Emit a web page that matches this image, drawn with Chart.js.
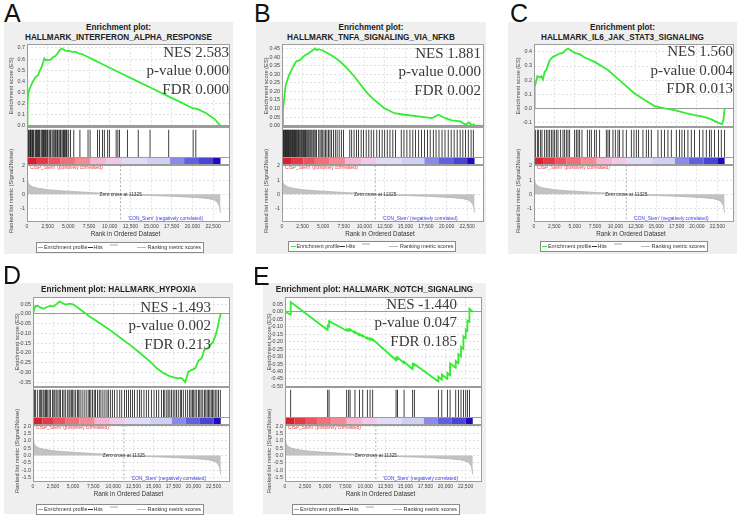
<!DOCTYPE html>
<html>
<head>
<meta charset="utf-8">
<script src="https://cdn.jsdelivr.net/npm/chart.js@4.4.1/dist/chart.umd.min.js"></script>
<style>
  body { margin: 0; width: 740px; height: 522px; position: relative; overflow: hidden; background: #fff;
         font-family: "Liberation Sans", Arial, sans-serif; color: #222; }
  .box { position: absolute; background: #efefef; }
  .letter { position: absolute; font-size: 25px; line-height: 25px; color: #111; }
  .title { position: absolute; width: 240px; font-weight: bold; font-size: 8.2px; line-height: 9.5px; text-align: center; white-space: nowrap; color: #222; }
  .stats { position: absolute; width: 120px; font-family: "Liberation Serif", "Times New Roman", serif; font-size: 15px; line-height: 18.5px; text-align: right; white-space: nowrap; color: #3a3a3a; }
  .ytitle { position: absolute; width: 120px; height: 8px; line-height: 8px; text-align: center; white-space: nowrap; font-size: 5.7px; color: #444; transform: rotate(-90deg); }
  .xtitle { position: absolute; width: 120px; height: 8px; line-height: 8px; text-align: center; font-size: 6.3px; color: #333; white-space: nowrap; }
  .legend { position: absolute; height: 9px; background: #fff; border: 1px solid #8a8a8a; font-size: 5.4px; line-height: 9px; color: #333; }
  .legend span { position: absolute; top: 0; white-space: nowrap; }
  .legend i { position: absolute; display: block; }
  canvas { position: absolute; }
</style>
</head>
<body>
<script>
// ---- data ----
const N_GENES = 23400;
const XMAX = 24550;
const zeroCross = 11325;
const xTicks = [0, 2500, 5000, 7500, 10000, 12500, 15000, 17500, 20000, 22500];

// ranked list metric (Signal2Noise), shared by all panels
const rankedX = [0, 100, 300, 700, 1300, 2500, 4000, 6000, 8000, 11325, 14000, 17500, 20500, 22000, 22700, 23000, 23250, 23400];
const rankedY = [0.95, 0.82, 0.66, 0.52, 0.43, 0.32, 0.25, 0.18, 0.11, 0, -0.07, -0.14, -0.23, -0.31, -0.42, -0.55, -0.8, -1.3];

// red -> blue correlation bar
const cbEdges = [0, 1200, 2600, 4000, 5800, 7700, 9600, 11500, 14500, 17300, 19000, 20800, 22500, 23400];
const cbColors = ['rgb(218,32,48)', 'rgb(228,58,70)', 'rgb(236,84,95)', 'rgb(240,112,122)', 'rgb(244,138,148)',
  'rgb(245,182,214)', 'rgb(240,202,230)', 'rgb(222,220,246)', 'rgb(208,208,243)', 'rgb(138,138,232)',
  'rgb(98,96,222)', 'rgb(74,68,212)', 'rgb(32,10,186)'];

const metTicks1 = [-1, 0, 1, 2];
const metTicks2 = [-1.5, -1, -0.5, 0, 0.5, 1, 1.5, 2];

// A: INTERFERON_ALPHA_RESPONSE
const esRankA = [0, 60, 150, 300, 530, 740, 1050, 1350, 1480, 1770, 1970, 2090, 2250, 2460, 2790, 3000, 3200, 3400, 3700, 3940, 4230, 4440, 4640, 5050, 5460, 5870, 6280, 6690, 7310, 8130, 8950, 10180, 11410, 13060, 15110, 17160, 18800, 20040, 20650, 21680, 22700, 23400];
const esValA = [0, 0.2, 0.29, 0.33, 0.37, 0.40, 0.44, 0.455, 0.485, 0.53, 0.575, 0.605, 0.59, 0.595, 0.59, 0.605, 0.62, 0.625, 0.65, 0.68, 0.695, 0.685, 0.673, 0.673, 0.664, 0.664, 0.65, 0.643, 0.62, 0.59, 0.56, 0.515, 0.47, 0.41, 0.337, 0.262, 0.203, 0.158, 0.149, 0.113, 0.06, 0];
const hitsA = [80, 125, 205, 330, 410, 450, 575, 655, 740, 820, 985, 1070, 1150, 1270, 1395, 1480, 1560, 1720, 1845, 1930, 2010, 2135, 2220, 2300, 2420, 2500, 2665, 2780, 2870, 3035, 3160, 3280, 3400, 3485, 3620, 3690, 3855, 3980, 4060, 4220, 4350, 4430, 4550, 4630, 4760, 4840, 5045, 5250, 5660, 6400, 7380, 7630, 8530, 8770, 9140, 9350, 9760, 9960, 10780, 10990, 11190, 12140, 13450, 14880, 17140, 20090, 20420];
const esTicksA = [0, 0.1, 0.2, 0.3, 0.4, 0.5, 0.6, 0.7];
const statsA = ['NES 2.583', 'p-value 0.000', 'FDR 0.000'];

// B: TNFA_SIGNALING_VIA_NFKB
const esRankB = [0, 120, 250, 450, 660, 860, 1150, 1350, 1560, 1770, 2180, 2500, 2790, 3200, 3610, 4020, 4230, 4440, 4850, 5460, 6280, 7100, 7920, 8750, 9570, 10390, 11210, 12440, 13670, 14900, 16550, 18190, 19010, 19830, 20650, 21680, 22300, 22710, 23120, 23300, 23400];
const esValB = [0, 0.093, 0.15, 0.238, 0.267, 0.295, 0.324, 0.344, 0.363, 0.377, 0.382, 0.398, 0.411, 0.421, 0.436, 0.45, 0.44, 0.446, 0.44, 0.425, 0.402, 0.373, 0.334, 0.29, 0.238, 0.189, 0.151, 0.102, 0.073, 0.064, 0.054, 0.044, 0.064, 0.044, 0.031, 0.025, 0.006, 0.019, 0.0, 0.008, 0];
const hitsB = [30, 110, 190, 260, 340, 420, 480, 560, 650, 720, 790, 880, 960, 1050, 1120, 1210, 1290, 1380, 1470, 1540, 1630, 1720, 1800, 1910, 2010, 2090, 2200, 2310, 2400, 2520, 2610, 2730, 2850, 2940, 3060, 3180, 3290, 3420, 3530, 3650, 3790, 3900, 4040, 4190, 4460, 4620, 4770, 4950, 5110, 5290, 5460, 5640, 5830, 6020, 6250, 6480, 6700, 6950, 7210, 7480, 8240, 8470, 8760, 9050, 9300, 9620, 9900, 10230, 10550, 10840, 11150, 11520, 11830, 12170, 12480, 12790, 13120, 13470, 13800, 14490, 14820, 15180, 15550, 15900, 16220, 16610, 16950, 17320, 17680, 18010, 18390, 18720, 19080, 19450, 19810, 20200, 20560, 20920, 21290, 21650, 21980, 22300, 22640, 22980, 23250];
const esTicksB = [0, 0.05, 0.1, 0.15, 0.2, 0.25, 0.3, 0.35, 0.4, 0.45];
const statsB = ['NES 1.881', 'p-value 0.000', 'FDR 0.002'];

// C: IL6_JAK_STAT3_SIGNALING
const esRankC = [0, 80, 200, 410, 700, 900, 1100, 1310, 1510, 1720, 1920, 2330, 2740, 3150, 3560, 3850, 4170, 4500, 4990, 5600, 6220, 7440, 9080, 10720, 12350, 13580, 14810, 16030, 17260, 18490, 19710, 20740, 21760, 22580, 23070, 23250, 23400];
const esValC = [0, 0.153, 0.176, 0.228, 0.219, 0.228, 0.205, 0.259, 0.271, 0.306, 0.341, 0.365, 0.376, 0.388, 0.393, 0.412, 0.424, 0.412, 0.393, 0.384, 0.36, 0.329, 0.271, 0.188, 0.106, 0.059, 0.016, 0, -0.012, -0.031, -0.047, -0.059, -0.078, -0.101, -0.111, -0.082, 0];
const hitsC = [164, 409, 573, 818, 982, 1309, 1514, 1718, 1923, 2127, 2332, 2536, 2740, 2945, 3272, 3559, 3763, 3968, 4172, 4377, 4990, 5194, 5399, 5603, 5890, 6544, 6830, 7035, 7444, 7648, 8057, 8875, 9080, 9284, 9693, 9979, 10306, 10511, 10920, 11329, 11943, 12270, 12556, 12843, 13374, 13783, 14070, 14397, 15215, 15624, 16033, 16442, 16851, 17465, 17874, 18160, 18487, 18896, 19305, 19714, 20328, 20737, 21146, 21555, 21760, 22169, 22660, 22987, 23400];
const esTicksC = [-0.1, 0, 0.1, 0.2, 0.3, 0.4];
const statsC = ['NES 1.560', 'p-value 0.004', 'FDR 0.013'];

// D: HYPOXIA
const esRankD = [0, 288, 585, 914, 1325, 1746, 2157, 2568, 2989, 3317, 3605, 4026, 4642, 5063, 5474, 6306, 7138, 8380, 9623, 10866, 12119, 13361, 14604, 15436, 16268, 17089, 17921, 18548, 18958, 19379, 19790, 20211, 20622, 21033, 21331, 21742, 22070, 22409, 22697, 22984, 23231, 23400];
const esValD = [0, 0.041, 0.041, 0.034, 0.027, 0.036, 0.041, 0.039, 0.053, 0.065, 0.058, 0.048, 0.053, 0.048, 0.036, 0.01, -0.015, -0.049, -0.083, -0.122, -0.16, -0.202, -0.245, -0.279, -0.304, -0.321, -0.33, -0.33, -0.35, -0.296, -0.287, -0.279, -0.24, -0.227, -0.185, -0.177, -0.16, -0.146, -0.117, -0.075, -0.024, 0];
const hitsD = [84, 210, 335, 587, 838, 964, 1089, 1257, 1383, 1550, 1676, 1844, 2011, 2179, 2430, 2598, 2724, 2891, 3101, 3268, 3436, 3687, 3855, 4022, 4274, 4483, 4609, 4777, 4944, 5112, 5321, 5531, 5698, 5866, 6117, 6369, 6620, 6872, 7039, 7207, 7416, 7626, 7793, 8045, 8254, 8464, 8715, 8967, 9218, 9386, 9637, 9888, 10140, 10475, 10810, 11062, 11397, 11648, 11900, 12151, 12402, 12654, 12989, 13282, 13492, 13827, 14120, 14414, 14749, 15084, 15377, 15671, 16006, 16257, 16425, 16676, 16844, 17053, 17263, 17472, 17682, 17891, 18101, 18352, 18520, 18729, 19023, 19274, 19525, 19693, 19861, 20028, 20196, 20405, 20615, 20782, 20950, 21160, 21369, 21537, 21704, 21872, 22039, 22207, 22375, 22542, 22710, 22919, 23129, 23338];
const esTicksD = [-0.35, -0.3, -0.25, -0.2, -0.15, -0.1, -0.05, 0, 0.05];
const statsD = ['NES -1.493', 'p-value 0.002', 'FDR 0.213'];

// E: NOTCH_SIGNALING
const esRankE = [0, 700, 710, 5315, 5320, 5485, 5490, 7685, 7690, 7935, 7940, 8105, 8110, 8715, 8720, 9265, 9270, 9685, 9690, 10255, 10260, 10595, 10600, 10925, 10930, 13835, 13840, 14005, 14010, 14835, 14840, 15905, 15910, 16115, 16120, 19105, 19110, 19535, 19540, 20228, 20233, 20566, 20571, 21274, 21279, 21603, 21608, 21931, 21936, 22228, 22233, 22516, 22521, 22721, 22726, 22977, 22982, 23400];
const esValE = [0, -0.02, 0.065, -0.123, -0.093, -0.1, -0.063, -0.127, -0.118, -0.129, -0.12, -0.127, -0.118, -0.144, -0.135, -0.158, -0.149, -0.167, -0.158, -0.182, -0.173, -0.188, -0.179, -0.193, -0.185, -0.325, -0.31, -0.318, -0.305, -0.345, -0.335, -0.385, -0.35, -0.36, -0.35, -0.467, -0.435, -0.455, -0.42, -0.45, -0.41, -0.425, -0.345, -0.375, -0.33, -0.345, -0.285, -0.3, -0.235, -0.25, -0.165, -0.178, -0.12, -0.13, -0.06, -0.07, 0.02, 0];
const hitsE = [710, 5320, 5490, 7690, 7940, 8110, 8720, 9270, 9690, 10260, 10600, 10930, 13840, 14010, 14840, 15910, 16120, 19110, 19540, 20233, 20571, 21279, 21608, 21936, 22233, 22521, 22726, 22982];
const esTicksE = [-0.5, -0.45, -0.4, -0.35, -0.3, -0.25, -0.2, -0.15, -0.1, -0.05, 0, 0.05];
const statsE = ['NES -1.440', 'p-value 0.047', 'FDR 0.185'];

const posLabel = "'CISP_Stem' (positively correlated)";
const negLabel = "'CON_Stem' (negatively correlated)";
const zeroLabel = 'Zero cross at ' + zeroCross;

// ---- layout ----
const panels = [
  { letter: 'A', letterPos: [4, 1], box: [4, 22, 229, 232], title: ['Enrichment plot:', 'HALLMARK_INTERFERON_ALPHA_RESPONSE'], titleTop: 23.3,
    plotX: [27, 230], es: [44, 127], hits: [127, 165], metric: [165, 222], legendTop: 241.5,
    esRange: [-0.009, 0.733], esTicks: esTicksA, esDec: 1, metRange: [-1.96, 2.05], metTicks: metTicks1, metDec: 0,
    esX: esRankA, esY: esValA, hitList: hitsA, stats: statsA, statsPos: [229, 42.5] },
  { letter: 'B', letterPos: [254, 1], box: [256, 22, 230, 232], title: ['Enrichment plot:', 'HALLMARK_TNFA_SIGNALING_VIA_NFKB'], titleTop: 23.3,
    plotX: [282, 484], es: [44, 127], hits: [127, 165], metric: [165, 222], legendTop: 240.5,
    esRange: [-0.006, 0.475], esTicks: esTicksB, esDec: 2, metRange: [-1.96, 2.05], metTicks: metTicks1, metDec: 0,
    esX: esRankB, esY: esValB, hitList: hitsB, stats: statsB, statsPos: [481, 43.5] },
  { letter: 'C', letterPos: [510, 1], box: [508, 22, 229, 232], title: ['Enrichment plot:', 'HALLMARK_IL6_JAK_STAT3_SIGNALING'], titleTop: 23.3,
    plotX: [534, 734], es: [44, 127], hits: [127, 165], metric: [165, 222], legendTop: 240.5,
    esRange: [-0.13, 0.454], esTicks: esTicksC, esDec: 1, metRange: [-1.96, 2.05], metTicks: metTicks1, metDec: 0,
    esX: esRankC, esY: esValC, hitList: hitsC, stats: statsC, statsPos: [733, 42] },
  { letter: 'D', letterPos: [3, 263], box: [4, 283, 229, 231], title: ['Enrichment plot: HALLMARK_HYPOXIA'], titleTop: 285.3,
    plotX: [33, 230], es: [297, 387], hits: [387, 425], metric: [425, 482], legendTop: 503.5,
    esRange: [-0.374, 0.086], esTicks: esTicksD, esDec: 2, metRange: [-1.82, 2.07], metTicks: metTicks2, metDec: 1,
    esX: esRankD, esY: esValD, hitList: hitsD, stats: statsD, statsPos: [211, 297.5] },
  { letter: 'E', letterPos: [253, 264], box: [263, 283, 223, 231], title: ['Enrichment plot: HALLMARK_NOTCH_SIGNALING'], titleTop: 285.3,
    plotX: [285, 482], es: [297, 387], hits: [387, 425], metric: [425, 482], legendTop: 503.5,
    esRange: [-0.502, 0.0965], esTicks: esTicksE, esDec: 2, metRange: [-1.82, 2.07], metTicks: metTicks2, metDec: 1,
    esX: esRankE, esY: esValE, hitList: hitsE, stats: statsE, statsPos: [457, 294.5] }
];

const AX = 24, PAD = 5, XAH = 8;
const GREEN = '#33ec33';
const GRID = '#e2e2e2';
const FRAME = '#9c9c9c';

Chart.defaults.font.family = '"Liberation Sans", Arial, sans-serif';
Chart.defaults.color = '#444';

function div(cls, css, text) {
  const d = document.createElement('div');
  d.className = cls;
  Object.assign(d.style, css);
  if (text !== undefined) d.textContent = text;
  document.body.appendChild(d);
  return d;
}
function makeCanvas(left, top, w, h) {
  const c = document.createElement('canvas');
  c.width = w; c.height = h;
  c.style.left = left + 'px'; c.style.top = top + 'px';
  c.style.width = w + 'px'; c.style.height = h + 'px';
  document.body.appendChild(c);
  return c;
}

// white plot background + grey frame
const framePlugin = {
  id: 'frame',
  beforeDraw(chart) {
    const a = chart.chartArea, g = chart.ctx;
    g.save(); g.fillStyle = '#fff'; g.fillRect(a.left, a.top, a.width, a.height); g.restore();
  },
  afterDraw(chart) {
    const a = chart.chartArea, g = chart.ctx;
    g.save(); g.strokeStyle = FRAME; g.lineWidth = 1;
    g.strokeRect(Math.round(a.left) + 0.5, Math.round(a.top) + 0.5, Math.round(a.width) - 1, Math.round(a.height) - 1);
    const cbTop = chart.options.cbTop;
    if (cbTop !== undefined) {
      const yy = Math.round(chart.scales.y.getPixelForValue(cbTop)) + 0.5;
      g.beginPath(); g.moveTo(a.left, yy); g.lineTo(a.right, yy); g.stroke();
    }
    g.restore();
  }
};

const metricNotes = {
  id: 'metricNotes',
  afterDatasetsDraw(chart) {
    const { ctx, chartArea: a, scales: { x, y } } = chart;
    const xz = x.getPixelForValue(zeroCross);
    ctx.save();
    ctx.strokeStyle = '#999'; ctx.lineWidth = 0.8; ctx.setLineDash([2, 2]);
    ctx.beginPath(); ctx.moveTo(xz, a.top); ctx.lineTo(xz, a.bottom); ctx.stroke();
    ctx.setLineDash([]);
    ctx.font = '4.8px "Liberation Sans"';
    ctx.textAlign = 'center'; ctx.textBaseline = 'middle'; ctx.fillStyle = '#333';
    ctx.fillText(zeroLabel, xz, y.getPixelForValue(0));
    ctx.textAlign = 'left'; ctx.textBaseline = 'top'; ctx.fillStyle = '#e8383f';
    ctx.fillText(posLabel, a.left + 2, a.top + 0.5);
    ctx.textBaseline = 'bottom'; ctx.fillStyle = '#3c3ce0';
    ctx.fillText(negLabel, x.getPixelForValue(12200), a.bottom - 1);
    ctx.restore();
  }
};

function tickSetter(list) {
  return s => { s.ticks = list.map(v => ({ value: v })); };
}

function buildPanel(p) {
  const [bx, by, bw, bh] = p.box;
  div('box', { left: bx + 'px', top: by + 'px', width: bw + 'px', height: bh + 'px' });
  div('letter', { left: p.letterPos[0] + 'px', top: p.letterPos[1] + 'px' }, p.letter);
  p.title.forEach((t, i) => div('title', { left: (bx + bw / 2 - 120) + 'px', top: (p.titleTop + i * 9.5) + 'px' }, t));

  const pl = p.plotX[0], pw = p.plotX[1] - p.plotX[0];

  // enrichment score
  const esH = p.es[1] - p.es[0];
  const c1 = makeCanvas(pl - AX, p.es[0] - PAD, AX + pw + 2, esH + 2 * PAD);
  new Chart(c1, {
    type: 'line',
    data: { datasets: [{ data: p.esX.map((x, i) => ({ x, y: p.esY[i] })), borderColor: GREEN, borderWidth: 1.8,
      pointRadius: 0, tension: 0, fill: false }] },
    options: {
      responsive: false, animation: false, events: [],
      layout: { padding: { top: PAD, bottom: PAD, left: 0, right: 2 } },
      plugins: { legend: { display: false }, tooltip: { enabled: false } },
      scales: {
        x: { type: 'linear', min: 0, max: XMAX, afterBuildTicks: tickSetter(xTicks), afterFit: s => { s.height = 0; },
          ticks: { display: false }, grid: { color: GRID, drawTicks: false }, border: { display: false, dash: [2, 2] } },
        y: { min: p.esRange[0], max: p.esRange[1], afterBuildTicks: tickSetter(p.esTicks), afterFit: s => { s.width = AX; },
          ticks: { font: { size: 5.4 }, padding: 2, autoSkip: false, callback: v => v.toFixed(p.esDec) },
          grid: { drawTicks: false, color: c => (c.tick && c.tick.value === 0 ? '#9a9a9a' : GRID) },
          border: { display: false, dash: c => (c.tick && c.tick.value === 0 ? [] : [2, 2]) } }
      }
    },
    plugins: [framePlugin]
  });

  // hits + correlation colour bar
  const hH = p.hits[1] - p.hits[0];
  const c2 = makeCanvas(pl, p.hits[0], pw, hH);
  const cbFrac = 7.5 / hH;
  new Chart(c2, {
    type: 'bar',
    data: { datasets: [
      { type: 'bar', data: p.hitList.map(r => ({ x: r, y: [cbFrac + 0.01, 0.93] })), backgroundColor: '#111',
        barThickness: 0.8, inflateAmount: 0, borderWidth: 0 },
      { type: 'line', data: cbEdges.map(x => ({ x, y: cbFrac / 2 })), borderWidth: 7.5, borderCapStyle: 'butt', pointRadius: 0,
        segment: { borderColor: c => cbColors[c.p0DataIndex] } }
    ] },
    options: {
      responsive: false, animation: false, events: [], cbTop: cbFrac,
      layout: { padding: 0 },
      plugins: { legend: { display: false }, tooltip: { enabled: false } },
      scales: {
        x: { type: 'linear', min: 0, max: XMAX, offset: false, display: false },
        y: { min: 0, max: 1, display: false }
      }
    },
    plugins: [framePlugin]
  });

  // ranked list metric
  const mH = p.metric[1] - p.metric[0];
  const c3 = makeCanvas(pl - AX, p.metric[0] - PAD, AX + pw + 2, mH + PAD + XAH);
  new Chart(c3, {
    type: 'line',
    data: { datasets: [{ data: rankedX.map((x, i) => ({ x, y: rankedY[i] })), borderColor: '#b4b4b4', borderWidth: 0.8,
      backgroundColor: '#c2c2c2', fill: 'origin', pointRadius: 0, tension: 0 }] },
    options: {
      responsive: false, animation: false, events: [],
      layout: { padding: { top: PAD, bottom: 0, left: 0, right: 2 } },
      plugins: { legend: { display: false }, tooltip: { enabled: false } },
      scales: {
        x: { type: 'linear', min: 0, max: XMAX, afterBuildTicks: tickSetter(xTicks), afterFit: s => { s.height = XAH; },
          ticks: { font: { size: 5 }, padding: 1.5, maxRotation: 0, autoSkip: false, callback: v => v.toLocaleString('en-US') },
          grid: { color: GRID, drawTicks: false }, border: { display: false, dash: [2, 2] } },
        y: { min: p.metRange[0], max: p.metRange[1], afterBuildTicks: tickSetter(p.metTicks), afterFit: s => { s.width = AX; },
          ticks: { font: { size: 5.4 }, padding: 2, autoSkip: false, callback: v => v.toFixed(p.metDec) },
          grid: { color: GRID, drawTicks: false }, border: { display: false, dash: [2, 2] } }
      }
    },
    plugins: [framePlugin, metricNotes]
  });

  // axis titles
  div('ytitle', { left: (pl - 16 - 60) + 'px', top: ((p.es[0] + p.es[1]) / 2 - 4) + 'px' }, 'Enrichment score (ES)');
  div('ytitle', { left: (pl - 16 - 60) + 'px', top: ((p.metric[0] + p.metric[1]) / 2 - 7) + 'px' }, 'Ranked list metric (Signal2Noise)');
  div('xtitle', { left: ((p.plotX[0] + p.plotX[1]) / 2 - 3 - 60) + 'px', top: (p.metric[1] + 8) + 'px' }, 'Rank in Ordered Dataset');

  // stats
  div('stats', { left: (p.statsPos[0] - 120) + 'px', top: p.statsPos[1] + 'px' }, '').innerHTML = p.stats.join('<br>');

  // legend
  const lg = div('legend', { left: (bx + bw / 2 - 83) + 'px', top: p.legendTop + 'px', width: '166px' });
  const parts = [
    ['i', 1.5, 5, 'background:' + GREEN + ';height:1.2px;top:4px'],
    ['span', 7.5, 0, 'Enrichment profile'],
    ['i', 51, 5, 'background:#333;height:1px;top:4.5px'],
    ['span', 57, 0, 'Hits'],
    ['i', 73, 8, 'background:#d2d2d2;height:1.5px;top:1.5px'],
    ['i', 100, 9, 'background:#b8b8b8;height:1px;top:4.5px'],
    ['span', 111, 0, 'Ranking metric scores']
  ];
  parts.forEach(([tag, x, w, extra]) => {
    const e = document.createElement(tag);
    if (tag === 'i') { e.style.cssText = 'left:' + x + 'px;width:' + w + 'px;' + extra; }
    else { e.style.left = x + 'px'; e.textContent = extra; }
    lg.appendChild(e);
  });
}

panels.forEach(buildPanel);
</script>
</body>
</html>
